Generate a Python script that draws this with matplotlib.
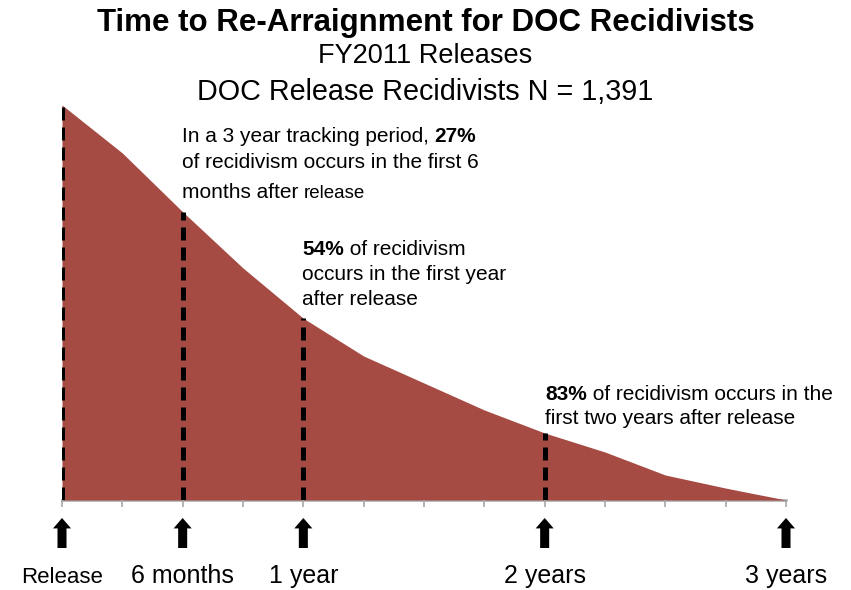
import matplotlib.pyplot as plt

plt.rcParams['font.family'] = ['Liberation Sans', 'DejaVu Sans']

# quarters since release, and recidivists not yet re-arraigned
quarters = [0, 1, 2, 3, 4, 5, 6, 7, 8, 9, 10, 11, 12]
remaining = [1391, 1222, 1015, 817, 640, 507, 412, 317, 236, 169, 88, 42, 0]

mark_q = [0, 2, 4, 8, 12]
mark_labels = ['Release', '6 months', '1 year', '2 years', '3 years']
mark_sizes = [16, 18, 18, 18, 18]
dash_q = [0, 2, 4, 8]

fig = plt.figure(figsize=(8.51, 5.90), dpi=100)
ax = fig.add_axes([62 / 851, 90 / 590, 724 / 851, 395 / 590])

ax.fill_between(quarters, remaining, 0, color='#a54b44', lw=0, zorder=1)
for q in dash_q:
    ax.plot([q, q], [0, remaining[q]], color='black', lw=3.6, ls=(0, (2.6, 1.4)),
            solid_capstyle='butt', dash_capstyle='butt', zorder=3)

ax.set_xlim(0, 12)
ax.set_ylim(0, 1391)
ax.set_xticks(quarters)
ax.set_xticklabels([])
ax.tick_params(axis='x', direction='out', length=5, width=1.2, color='#a6a6a6')
ax.set_yticks([])
for s in ['left', 'right', 'top']:
    ax.spines[s].set_visible(False)
ax.spines['bottom'].set_color('#a6a6a6')
ax.spines['bottom'].set_linewidth(1.8)
ax.spines['bottom'].set_zorder(0)

for q, lab, fs in zip(mark_q, mark_labels, mark_sizes):
    ax.annotate('', xy=(q, -18 / 395), xytext=(q, -48 / 395),
                xycoords=('data', 'axes fraction'), textcoords=('data', 'axes fraction'),
                arrowprops=dict(arrowstyle='simple,head_length=0.75,head_width=1.3,tail_width=0.65',
                                mutation_scale=10, color='black', lw=0,
                                shrinkA=0, shrinkB=0))
    ax.text(q, -83 / 395, lab, transform=ax.get_xaxis_transform(), ha='center',
            va='baseline', fontsize=fs, clip_on=False)

# titles
fig.text(0.5, 1 - 31 / 590, 'Time to Re-Arraignment for DOC Recidivists', ha='center',
         va='baseline', fontsize=22.5, fontweight='bold')
fig.text(0.5, 1 - 63 / 590, 'FY2011 Releases', ha='center', va='baseline', fontsize=19.5)
fig.text(0.5, 1 - 100 / 590, 'DOC Release Recidivists N = 1,391', ha='center',
         va='baseline', fontsize=20.7)

fig.canvas.draw()
renderer = fig.canvas.get_renderer()


def rich(x_px, y_px, parts, fs=15):
    # parts: list of (text, bold, size); y_px is the baseline
    x = x_px
    for txt, bold, size in parts:
        t = fig.text(x / 851, 1 - y_px / 590, txt, ha='left', va='baseline',
                     fontsize=size or fs, fontweight='bold' if bold else 'normal')
        bb = t.get_window_extent(renderer)
        x += bb.width


rich(182, 142, [('In a 3 year tracking period, ', False, None), ('27%', True, None)])
rich(182, 168, [('of recidivism occurs in the first 6', False, None)])
rich(182, 198, [('months after ', False, None), ('release', False, 13.5)])

rich(302, 255, [('54%', True, None), (' of recidivism', False, None)])
rich(302, 280, [('occurs in the first year', False, None)])
rich(302, 305, [('after release', False, None)])

rich(545, 400, [('83%', True, None), (' of recidivism occurs in the', False, None)])
rich(545, 424, [('first two years after release', False, None)])

fig.savefig('out.png', dpi=100)
